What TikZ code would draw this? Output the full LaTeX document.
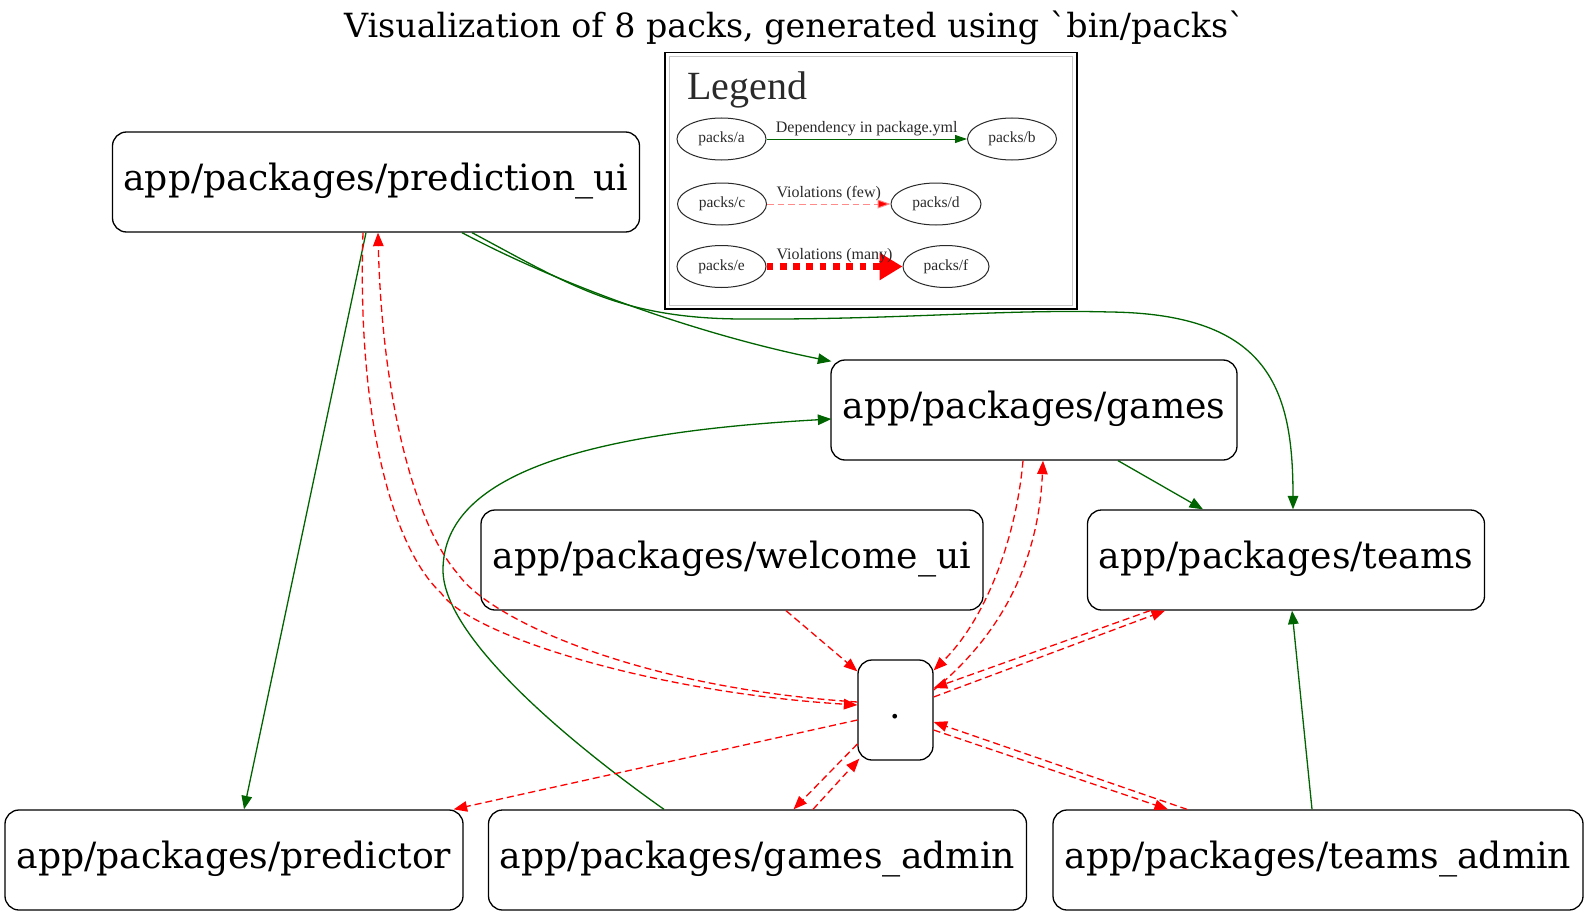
\documentclass[tikz,border=0pt]{standalone}
\usepackage{fontspec}
\setmainfont{DejaVu Serif}
\newfontfamily\legendfont{Liberation Serif}
\usetikzlibrary{arrows.meta,calc,shapes.geometric}
\definecolor{depgreen}{HTML}{006400}
\definecolor{legendgray}{HTML}{2A2A2A}
\definecolor{fewred}{HTML}{FF8A8A}
\tikzset{
  pack/.style={draw, rounded corners=14pt, line width=1.3pt, inner sep=0pt,
    minimum height=100pt, font=\fontsize{36.2}{42}\selectfont,
    text height=26.9pt, text depth=9.7pt},
  dep/.style={draw=depgreen, line width=1.3pt,
    -{Triangle[length=13.5pt,width=10.5pt]}},
  viol/.style={draw=red, line width=1.3pt, dash pattern=on 7pt off 4pt,
    -{Triangle[length=13.5pt,width=10.5pt]}},
  legnode/.style={ellipse, draw=legendgray, line width=1pt, inner sep=0pt,
    minimum width=89pt, minimum height=42pt, text=legendgray,
    font=\legendfont\fontsize{15.5}{18}\selectfont},
  leglabel/.style={midway, anchor=base, yshift=7pt, inner sep=0pt,
    text=legendgray, font=\legendfont\fontsize{16}{18}\selectfont},
}
\begin{document}
\begin{tikzpicture}[x=1pt,y=-1pt]
\useasboundingbox (0,0) rectangle (1589,915);

% title
\node[anchor=base, inner sep=0pt, font=\fontsize{33.3}{38}\selectfont] (title)
  at (794.5,37.5) {Visualization of 8 packs, generated using \textasciigrave bin/packs\textasciigrave};

% packs
\node[pack, minimum width=527pt] (pui)       at (376,182)   {app/packages/prediction\_ui};
\node[pack, minimum width=406pt] (games)     at (1034,410)  {app/packages/games};
\node[pack, minimum width=502pt] (welcome)   at (732,560)   {app/packages/welcome\_ui};
\node[pack, minimum width=397pt] (teams)     at (1286,560)  {app/packages/teams};
\node[pack, minimum width=75pt]  (dot)       at (895.5,710) {.};
\node[pack, minimum width=458pt] (predictor) at (234,860)   {app/packages/predictor};
\node[pack, minimum width=538pt] (gadmin)    at (757.5,860) {app/packages/games\_admin};
\node[pack, minimum width=530pt] (tadmin)    at (1318,860)  {app/packages/teams\_admin};

% legend frame
\draw[line width=1.3pt, fill=white] (665,52.7) rectangle (1077,309);
\draw[black!22, line width=1pt] (669,57) rectangle (1072,305);
\node[anchor=base west, inner sep=0pt, text=legendgray,
  font=\legendfont\fontsize{40}{44}\selectfont] (legtitle) at (687,100) {Legend};
\node[legnode] (la) at (721.5,139) {packs/a};
\node[legnode] (lb) at (1012,139)  {packs/b};
\node[legnode] (lc) at (722,204)   {packs/c};
\node[legnode, minimum width=90pt] (ld) at (936,204) {packs/d};
\node[legnode] (le) at (721.5,266.5) {packs/e};
\node[legnode, minimum width=86pt] (lf) at (946,266.5) {packs/f};
\draw[draw=depgreen, line width=1pt, -{Triangle[length=12pt,width=8pt]}]
  (la) -- node[leglabel] {Dependency in package.yml} (lb);
\draw[draw=fewred, line width=1pt, dash pattern=on 6.7pt off 4pt,
  -{Triangle[length=13pt,width=9pt,fill=red]}]
  (lc) -- node[leglabel] {Violations (few)} (ld);
\draw[draw=red, line width=6.7pt, line cap=butt, dash pattern=on 6.7pt off 6.6pt,
  -{Triangle[length=23pt,width=26pt]}]
  (le) -- node[leglabel] {Violations (many)} (lf);

% dependencies
\draw[dep] ($(pui.south)+(-10,0)$) -- ($(predictor.north)+(10,0)$);
\draw[dep] ($(pui.south)+(86,0)$) .. controls (560,285) and (700,335) .. ($(games.north west)+(1,2)$);
\draw[dep] ($(pui.south)+(96,0)$) .. controls (570,285) and (620,318) .. (740,319)
  .. controls (900,320) and (1000,309) .. (1110,312)
  .. controls (1270,314) and (1293,390) .. ($(teams.north)+(7,0)$);
\draw[dep] ($(gadmin.north)+(-93.5,0)$) .. controls (580,750) and (443,640) .. (443,570)
  .. controls (443,470) and (600,432) .. ($(games.west)+(1,9)$);
\draw[dep] ($(games.south)+(84,0)$) -- ($(teams.north)+(-83,0)$);
\draw[dep] ($(tadmin.north)+(-6,0)$) -- ($(teams.south)+(6,0)$);

% violations
\draw[viol] ($(pui.south)+(-13,0)$) .. controls (357,410) and (390,545) .. (441,593)
  .. controls (470,635) and (650,692) .. ($(dot.west)+(0,-5)$);
\draw[viol] ($(dot.west)+(0,-8)$) .. controls (640,688) and (490,620) .. (458,574)
  .. controls (415,525) and (382,400) .. ($(pui.south)+(2,0)$);
\draw[viol] ($(games.south)+(-11,0)$) .. controls (1016,540) and (985,620) .. ($(dot.north east)+(0,11)$);
\draw[viol] ($(dot.east)+(0,-20)$) .. controls (995,640) and (1038,570) .. ($(games.south)+(9,0)$);
\draw[viol] ($(teams.south)+(-136,0)$) -- ($(dot.east)+(0,-22)$);
\draw[viol] ($(dot.east)+(0,-13)$) -- ($(teams.south)+(-121,0)$);
\draw[viol] ($(welcome.south)+(54,0)$) -- ($(dot.north west)+(0,12)$);
\draw[viol] ($(dot.west)+(0,10)$) -- ($(predictor.north east)+(-10,0)$);
\draw[viol] ($(dot.west)+(0,34)$) -- ($(gadmin.north)+(36,0)$);
\draw[viol] ($(gadmin.north)+(55.5,0)$) -- ($(dot.south west)+(2,-2)$);
\draw[viol] ($(tadmin.north)+(-131,0)$) -- ($(dot.east)+(0,12)$);
\draw[viol] ($(dot.east)+(0,20)$) -- ($(tadmin.north)+(-150,0)$);
\end{tikzpicture}
\end{document}
